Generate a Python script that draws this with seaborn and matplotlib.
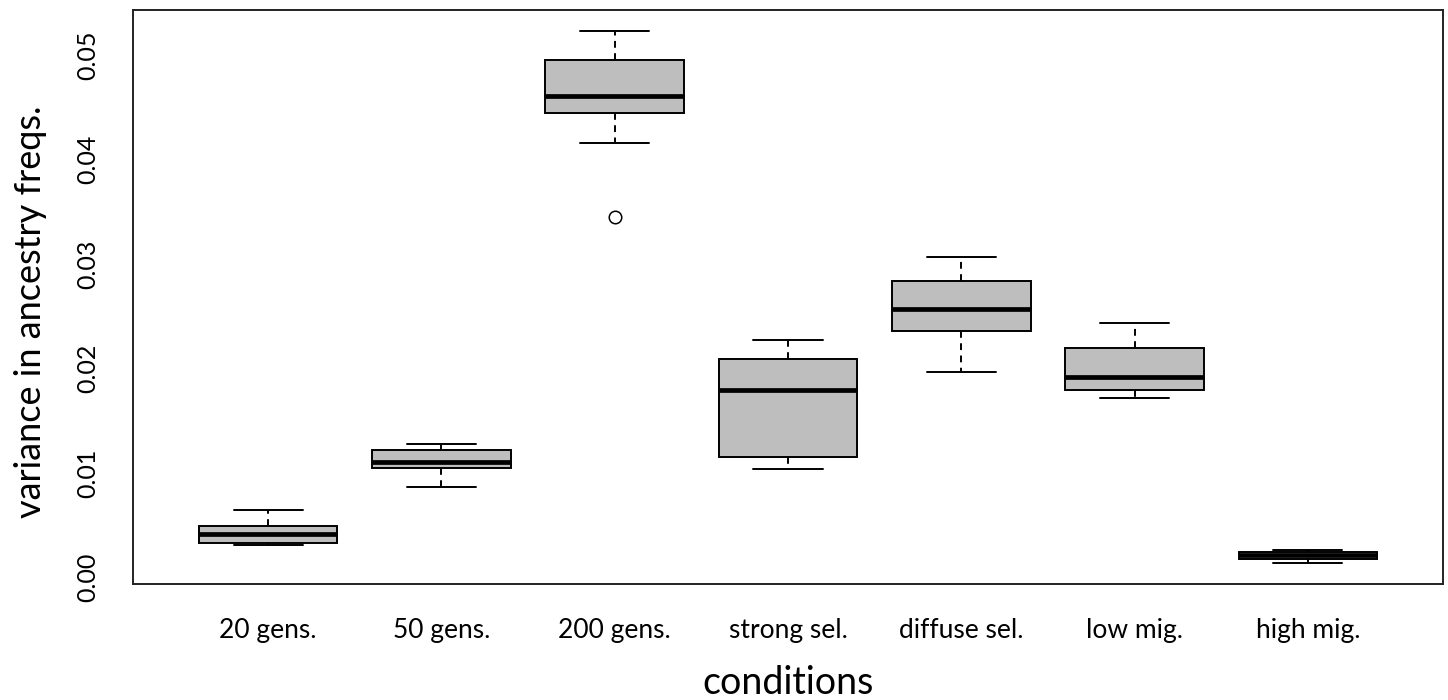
import matplotlib
matplotlib.use("Agg")
import matplotlib.pyplot as plt
import numpy as np
import pandas as pd
import seaborn as sns

# Replicate values of the variance in ancestry frequencies per simulated condition
conditions = ["20 gens.", "50 gens.", "200 gens.", "strong sel.",
              "diffuse sel.", "low mig.", "high mig."]
gens20 = [0.00309, 0.00329, 0.00418, 0.00491, 0.00645]
gens50 = [0.00865, 0.01044, 0.01101, 0.01219, 0.01277]
gens200 = [0.03454, 0.04157, 0.04444, 0.04540, 0.04613,
           0.04780, 0.04955, 0.05110, 0.05233]
strong_sel = [0.01037, 0.01149, 0.01797, 0.02094, 0.02273]
diffuse_sel = [0.01964, 0.02359, 0.02573, 0.02835, 0.03065]
low_mig = [0.01715, 0.01791, 0.01921, 0.02199, 0.02433]
high_mig = [0.00140, 0.00172, 0.00209, 0.00242, 0.00262]

y_ticks = [0.00, 0.01, 0.02, 0.03, 0.04, 0.05]
y_tick_labels = ["0.00", "0.01", "0.02", "0.03", "0.04", "0.05"]

series = [gens20, gens50, gens200, strong_sel, diffuse_sel, low_mig, high_mig]
df = pd.DataFrame({
    "condition": np.concatenate([[c] * len(v) for c, v in zip(conditions, series)]),
    "variance": np.concatenate(series),
})

sns.set_style("white")
plt.rcParams["font.family"] = ["Lato", "DejaVu Sans"]

fig = plt.figure(figsize=(14.48, 7.0), dpi=100)
ax = fig.add_axes([133 / 1448, 1 - 584 / 700, 1310 / 1448, 574 / 700])

edge_lw = 1.4
sns.boxplot(
    data=df, x="condition", y="variance", order=conditions, ax=ax,
    color="#BEBEBE", saturation=1, width=0.8, whis=1.5,
    linecolor="black", linewidth=edge_lw,
    boxprops=dict(edgecolor="black", linewidth=edge_lw),
    medianprops=dict(color="black", linewidth=3.4, solid_capstyle="butt"),
    whiskerprops=dict(color="black", linewidth=edge_lw, linestyle=(0, (3.5, 2.8))),
    capprops=dict(color="black", linewidth=edge_lw),
    flierprops=dict(marker="o", markerfacecolor="none", markeredgecolor="black",
                    markersize=9, markeredgewidth=1.1),
)

ax.set_xlim(-0.78, 6.78)
ax.set_ylim(-0.00064, 0.05434)
ax.set_yticks(y_ticks)
ax.set_yticklabels(y_tick_labels, rotation=90, va="center", fontsize=18)
ax.tick_params(axis="x", labelsize=19, pad=14)
ax.tick_params(axis="both", direction="out", length=10.5, width=1.2,
               color="black", labelcolor="black")
ax.tick_params(axis="y", pad=14)

for spine in ax.spines.values():
    spine.set_visible(True)
    spine.set_color("#222222")
    spine.set_linewidth(1.4)

ax.set_xlabel("conditions", fontsize=27, color="black")
ax.xaxis.label.set_va("center")
ax.xaxis.set_label_coords(0.5, (584 - 683) / 574)
ax.set_ylabel("variance in ancestry freqs.", fontsize=26, color="black")
ax.yaxis.label.set_va("center")
ax.yaxis.set_label_coords((31 - 133) / 1310, (584 - 312) / 574)

fig.savefig("out.png", dpi=100)
